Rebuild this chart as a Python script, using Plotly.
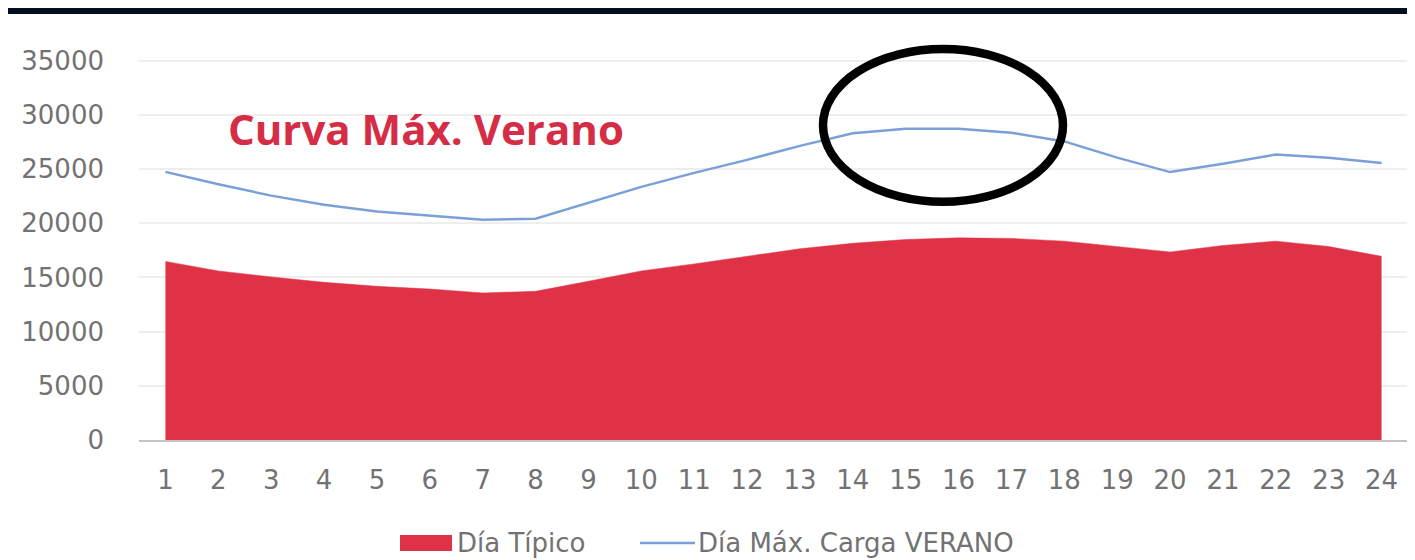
import plotly.graph_objects as go

# hourly load curve
hours = list(range(1, 25))
dia_tipico = [16480, 15600, 15050, 14550, 14180, 13930, 13570, 13720, 14650, 15600, 16250, 16950,
              17650, 18150, 18500, 18650, 18600, 18350, 17850, 17350, 17950, 18350, 17850, 16950]
dia_max_verano = [24740, 23600, 22550, 21700, 21080, 20690, 20320, 20420, 21900, 23360, 24650, 25850,
                  27140, 28300, 28720, 28720, 28350, 27550, 26050, 24720, 25480, 26340, 26050, 25560]
y_ticks = [0, 5000, 10000, 15000, 20000, 25000, 30000, 35000]

RED = "#e03247"
BLUE = "#7aa0d8"
GREY = "#727272"
FONT = "DejaVu Sans"

# the page body adds an 8px margin, so the figure is 8px smaller than the window
W, H = 1407, 552
L, R, T, B = 131, 7, 31, 120


def px(x):
    return (x - L) / (W - L - R)


def py(y):
    return (H - B - y) / (H - T - B)


fig = go.Figure()
fig.add_trace(go.Scatter(x=hours, y=dia_tipico, mode="lines", fill="tozeroy",
                         fillcolor=RED, line=dict(color=RED, width=0.5),
                         name="Día Típico"))
fig.add_trace(go.Scatter(x=hours, y=dia_max_verano, mode="lines",
                         line=dict(color=BLUE, width=2.5),
                         name="Día Máx. Carga VERANO"))

shapes = [
    # dark strip along the top edge
    dict(type="rect", xref="paper", yref="paper", x0=px(0), x1=px(W), y0=py(0), y1=py(6),
         fillcolor="#000e20", line_width=0, layer="above"),
    # hand-drawn circle around the peak
    dict(type="circle", xref="paper", yref="paper", x0=px(815), x1=px(1055),
         y0=py(193.7), y1=py(41), line=dict(color="black", width=8.5), layer="above"),
    # legend swatches
    dict(type="rect", xref="paper", yref="paper", x0=px(392), x1=px(444), y0=py(543), y1=py(527),
         fillcolor=RED, line_width=0),
    dict(type="line", xref="paper", yref="paper", x0=px(632), x1=px(687), y0=py(535), y1=py(535),
         line=dict(color=BLUE, width=2.5)),
]

annotations = [
    dict(text="<b>Curva Máx. Verano</b>", xref="paper", yref="paper", x=px(218), y=py(120),
         xanchor="left", yanchor="middle", showarrow=False,
         font=dict(family="Open Sans", size=42, color="#d62d46")),
    dict(text="Día Típico", xref="paper", yref="paper", x=px(447), y=py(535),
         xanchor="left", yanchor="middle", showarrow=False,
         font=dict(family=FONT, size=26, color=GREY)),
    dict(text="Día Máx. Carga VERANO", xref="paper", yref="paper", x=px(688), y=py(535),
         xanchor="left", yanchor="middle", showarrow=False,
         font=dict(family=FONT, size=26, color=GREY)),
]

fig.update_layout(
    width=W, height=H,
    margin=dict(l=L, r=R, t=T, b=B, pad=0),
    paper_bgcolor="white", plot_bgcolor="white",
    showlegend=False,
    shapes=shapes,
    annotations=annotations,
    font=dict(family=FONT, color=GREY),
)
fig.update_xaxes(range=[0.5, 24.5], tickvals=hours, showgrid=False, zeroline=False,
                 showline=True, linecolor="#c4c4c4", linewidth=2, ticks="",
                 tickfont=dict(family=FONT, size=26, color=GREY), ticklabelstandoff=16)
fig.update_yaxes(range=[0, 37000], tickvals=y_ticks, tickformat="d", showgrid=True,
                 gridcolor="#eeeeee", gridwidth=1.5, zeroline=False, showline=False, ticks="",
                 tickfont=dict(family=FONT, size=26, color=GREY), ticklabelstandoff=34)

fig.write_html("out.html")
